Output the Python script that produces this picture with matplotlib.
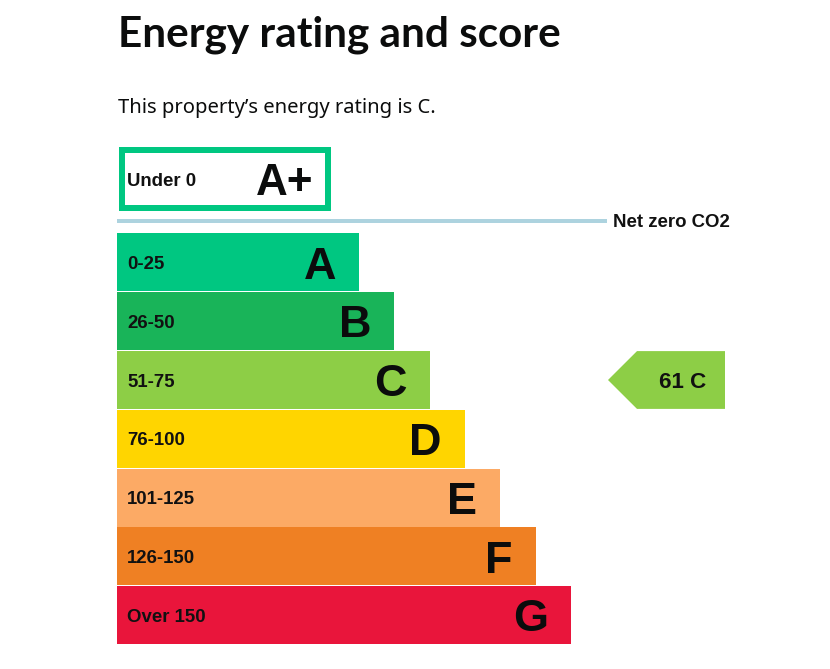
import matplotlib
matplotlib.use("Agg")
import matplotlib.pyplot as plt
from matplotlib.patches import Polygon, Rectangle

# ---- data ----
bands = ["A", "B", "C", "D", "E", "F", "G"]
ranges = ["0-25", "26-50", "51-75", "76-100", "101-125", "126-150", "Over 150"]
colors = ["#00c781", "#19b459", "#8dce46", "#ffd500", "#fcaa65", "#ef8023", "#e9153b"]
top_band = "A+"
top_range = "Under 0"
score = 61
rating = "C"
title = "Energy rating and score"
subtitle = "This property\u2019s energy rating is C."
net_zero_label = "Net zero CO2"

# ---- layout ----
W, H = 830, 669
fig = plt.figure(figsize=(8.3, 6.69), dpi=100)
ax = fig.add_axes([0, 0, 1, 1])
ax.set_xlim(0, W)
ax.set_ylim(H, 0)
ax.axis("off")

PX = 0.72  # points per pixel at dpi 100
LAB = "Liberation Sans"

x0 = 117
row_h = 58.8
top0 = 233
base_w = 242
step_w = 35.3

ys = [top0 + row_h * i + row_h / 2 for i in range(len(bands))]
widths = [base_w + step_w * i for i in range(len(bands))]
ax.barh(ys, widths, height=row_h - 0.9, left=x0, color=colors, linewidth=0)

lab_px = 18.6
let_px = 45
for y, w, b, r in zip(ys, widths, bands, ranges):
    ax.text(x0 + 10, y + 0.716 * lab_px / 2, r, fontsize=lab_px * PX, fontweight="bold",
            family=LAB, ha="left", va="baseline", color="#111111")
    ax.text(x0 + w - 23, y + 0.716 * let_px / 2, b, fontsize=let_px * PX, fontweight="bold",
            family=LAB, ha="right", va="baseline", color="#0b0c0c")

# A+ box
ap_c = 179.5
ax.add_patch(Rectangle((122, 150), 206, 58, fill=False, edgecolor=colors[0],
                       linewidth=6 * PX))
ax.text(127, ap_c + 0.716 * lab_px / 2, top_range, fontsize=lab_px * PX, fontweight="bold",
        family=LAB, ha="left", va="baseline", color="#111111")
ax.text(313, ap_c + 0.716 * 44 / 2, top_band, fontsize=44 * PX, fontweight="bold",
        family=LAB, ha="right", va="baseline", color="#0b0c0c")

# net zero line
ax.plot([117, 607], [221, 221], color="#add3df", linewidth=4 * PX, solid_capstyle="butt")
ax.text(613, 220.5 + 0.716 * 18.7 / 2, net_zero_label, fontsize=18.7 * PX,
        fontweight="bold", family=LAB, ha="left", va="baseline", color="#111111")

# current rating arrow
ri = bands.index(rating)
yc = ys[ri]
half = (row_h - 1) / 2
tip_x, notch_x, right_x = 608, 637, 725
ax.add_patch(Polygon([(tip_x, yc), (notch_x, yc - half), (right_x, yc - half),
                      (right_x, yc + half), (notch_x, yc + half)], closed=True,
                     facecolor=colors[ri], edgecolor="none"))
ax.text(659, yc + 0.716 * 22.4 / 2, f"{score} {rating}", fontsize=22.4 * PX,
        fontweight="bold", family=LAB, ha="left", va="baseline", color="#111111")

# titles
fig.text(118 / W, 1 - 47 / H, title, fontsize=42.3 * PX, fontweight="bold",
         family="Lato", ha="left", va="baseline", color="#0b0c0c")
fig.text(118 / W, 1 - 113 / H, subtitle, fontsize=20.2 * PX, family="Noto Sans",
         ha="left", va="baseline", color="#0b0c0c")

fig.savefig("out.png", dpi=100, facecolor="white")
